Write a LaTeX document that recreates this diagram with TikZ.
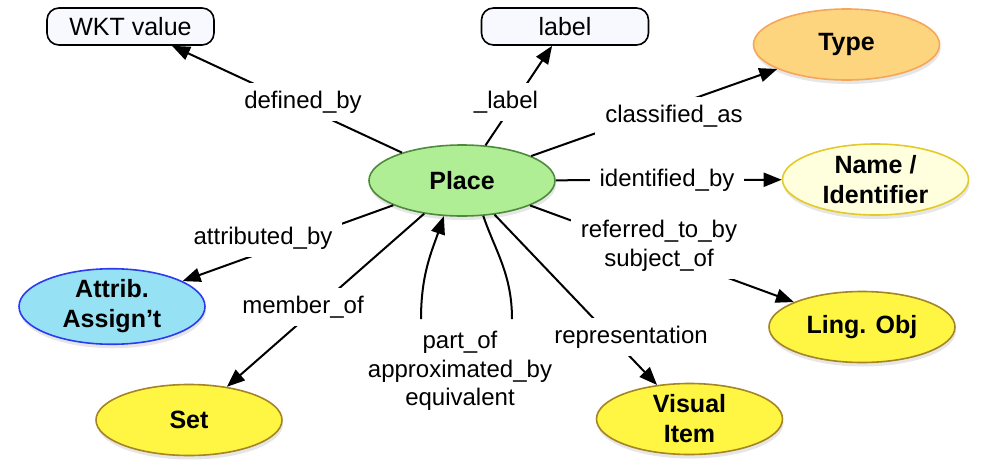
\documentclass[tikz,border=0pt]{standalone}
\usepackage{fontspec}
\setmainfont{Liberation Sans}
\usepackage{tikz}
\usetikzlibrary{positioning,%
  shapes.geometric,%
  arrows.meta,%
  shadows
}
\definecolor{placefill}{HTML}{B0EE96}
\definecolor{placeline}{HTML}{4E8A3E}
\definecolor{typefill}{HTML}{FDD57F}
\definecolor{typeline}{HTML}{F5A65B}
\definecolor{namefill}{HTML}{FFFFDD}
\definecolor{nameline}{HTML}{E3C92A}
\definecolor{attrfill}{HTML}{97E1F5}
\definecolor{attrline}{HTML}{2C3BF0}
\definecolor{yelfill}{HTML}{FEF642}
\definecolor{yelline}{HTML}{A48424}
\definecolor{valfill}{HTML}{F8F8FF}

\begin{document}
\begin{tikzpicture}[x=1pt,y=-1pt,
    ent/.style={ellipse, draw, line width=1.6pt, minimum width=186pt,
      minimum height=71pt, inner sep=0pt, align=center,
      font=\fontsize{25}{30}\selectfont\bfseries,
      drop shadow={shadow xshift=1pt,shadow yshift=-4pt,opacity=.2}},
    val/.style={rectangle, rounded corners=12pt, draw, line width=1.6pt,
      fill=valfill, minimum width=167pt, minimum height=37pt,
      font=\fontsize{25}{30}\selectfont},
    rel/.style={fill=white, inner xsep=10pt, inner ysep=8pt, align=center,
      font=\fontsize{24}{28.5}\selectfont},
    link/.style={line width=2pt},
    arr/.style={link, -{Triangle[length=18pt,width=14pt]}}]
  \useasboundingbox (0,0) rectangle (986,472);

  % classes
  \node[ent, fill=placefill, draw=placeline] (place) at (462,180.5) {Place};
  \node[val] (wkt) at (130.5,26.5) {WKT value};
  \node[val] (lbl) at (565,26.5) {label};
  \node[ent, fill=typefill, draw=typeline] (type) at (846.5,44.5) {Type};
  \node[ent, fill=namefill, draw=nameline] (name) at (875.5,179.5) {Name /\\Identifier};
  \node[ent, fill=attrfill, draw=attrline] (attr) at (112,306.5) {Attrib.\\Assign't};
  \node[ent, fill=yelfill, draw=yelline] (ling) at (862,327) {Ling. Obj};
  \node[ent, fill=yelfill, draw=yelline] (set) at (189,420) {Set};
  \node[ent, fill=yelfill, draw=yelline] (visual) at (689.5,419) {Visual\\Item};

  % relations
  \draw[arr] (place) -- (wkt);
  \draw[arr] (place) -- (lbl);
  \draw[arr] (place) -- (type);
  \draw[arr] (place) -- (name);
  \draw[arr] (place) -- (ling);
  \draw[arr] (place) -- (attr);
  \draw[arr] (place) -- (set);
  \draw[arr] (place) -- (visual);

  \node[rel] (lPart) at (460,371) {part\_of\\approximated\_by\\equivalent};
  \node[rel] (lDefined) at (303,102) {defined\_by};
  \node[rel] (lLabel) at (506,102) {\_label};
  \node[rel] (lClass) at (674,116) {classified\_as};
  \node[rel] (lIdent) at (667,180) {identified\_by};
  \node[rel] (lRefer) at (659,246) {referred\_to\_by\\subject\_of};
  \node[rel] (lAttr) at (263,238) {attributed\_by};
  \node[rel] (lMember) at (303,307) {member\_of};
  \node[rel] (lRepr) at (631,337) {representation};

  % self loop through part_of
  \draw[link] (place.-59) .. controls +(12,35) and +(0,-45) .. ([xshift=52pt,yshift=4pt]lPart.north);
  \draw[arr] ([xshift=-39pt,yshift=4pt]lPart.north) .. controls +(0,-45) and +(-12,35) .. (place.-117);
\end{tikzpicture}
\end{document}
